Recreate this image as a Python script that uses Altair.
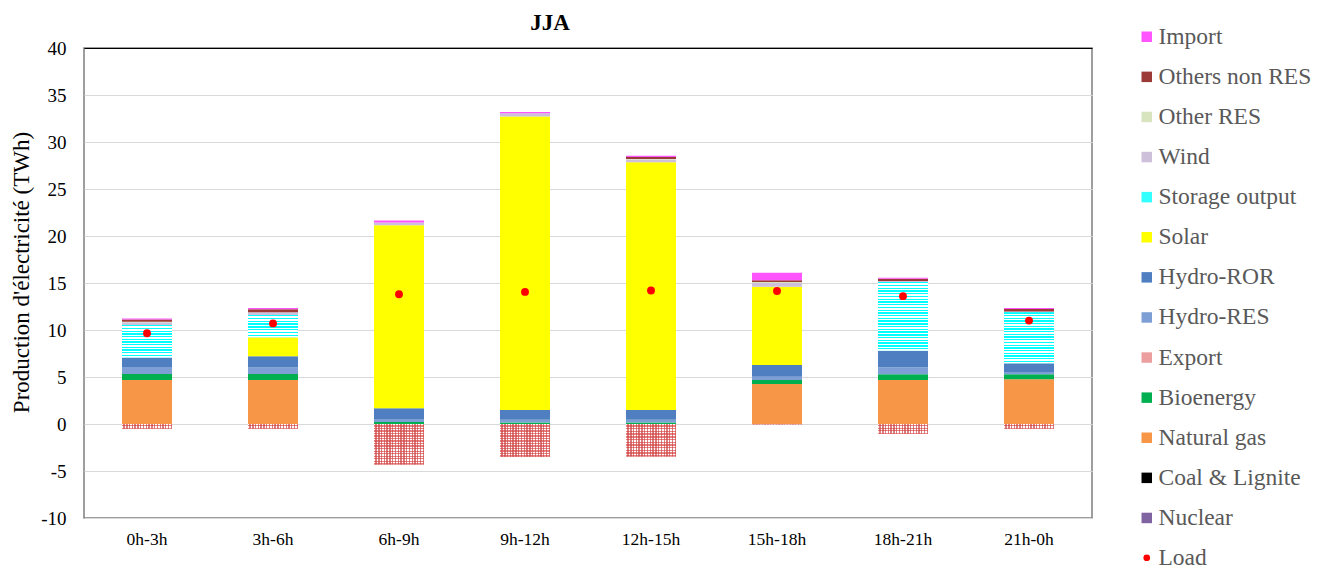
import altair as alt
import pandas as pd

periods = ["0h-3h", "3h-6h", "6h-9h", "9h-12h", "12h-15h", "15h-18h", "18h-21h", "21h-0h"]

nuclear = [0, 0, 0, 0, 0, 0, 0, 0]
coal_lignite = [0, 0, 0, 0, 0, 0, 0, 0]
natural_gas = [4.68, 4.68, 0, 0, 0, 4.26, 4.68, 4.75]
bioenergy = [0.64, 0.64, 0.2, 0.15, 0.15, 0.42, 0.61, 0.54]
hydro_res = [0.75, 0.70, 0.32, 0.30, 0.30, 0.35, 0.75, 0.25]
hydro_ror = [1.00, 1.20, 1.15, 1.05, 1.05, 1.25, 1.76, 0.92]
solar = [0, 2.0, 19.47, 31.2, 26.35, 8.32, 0, 0]
storage_output = [3.45, 2.38, 0, 0, 0, 0, 7.3, 5.42]
wind = [0.3, 0.3, 0.3, 0.35, 0.3, 0.4, 0.1, 0.1]
other_res = [0.05, 0, 0, 0, 0.05, 0.1, 0, 0]
others_non_res = [0.25, 0.3, 0, 0, 0.2, 0.2, 0.25, 0.25]
imports = [0.1, 0.15, 0.2, 0.15, 0.15, 0.8, 0.1, 0.1]
export = [-0.5, -0.5, -4.3, -3.48, -3.45, -0.05, -1.05, -0.5]
load = [9.65, 10.7, 13.8, 14.05, 14.2, 14.15, 13.6, 11.0]

stack_sources = [
    ("Nuclear", nuclear), ("Coal & Lignite", coal_lignite), ("Natural gas", natural_gas),
    ("Bioenergy", bioenergy), ("Hydro-RES", hydro_res), ("Hydro-ROR", hydro_ror),
    ("Solar", solar), ("Storage output", storage_output), ("Wind", wind),
    ("Other RES", other_res), ("Others non RES", others_non_res), ("Import", imports),
]

legend_order = ["Import", "Others non RES", "Other RES", "Wind", "Storage output", "Solar",
                "Hydro-ROR", "Hydro-RES", "Export", "Bioenergy", "Natural gas",
                "Coal & Lignite", "Nuclear"]
legend_colors = ["#ff55ff", "#9b3a36", "#d7e4bd", "#ccc0da", "#33ffff", "#ffff00",
                 "#4f7fc0", "#7d9fd6", "#ec9f9f", "#00b050", "#f79646",
                 "#000000", "#8064a2"]

rows = []
for i, p in enumerate(periods):
    base = 0.0
    for name, vals in stack_sources:
        v = vals[i]
        rows.append({"period": p, "source": name, "value": v, "y0": base, "y1": base + v})
        base += v
    rows.append({"period": p, "source": "Export", "value": export[i], "y0": 0.0, "y1": export[i]})
df = pd.DataFrame(rows)
df = df[df["value"] != 0]

load_df = pd.DataFrame({"period": periods, "load": load, "kind": ["Load"] * len(periods)})

PX_PER_UNIT = 470 / 50.0

x_enc = alt.X("period:N", sort=periods, title=None,
              scale=alt.Scale(paddingInner=0.603, paddingOuter=0.3015),
              axis=alt.Axis(labelAngle=0, ticks=False, domain=False, labelFontSize=17.5,
                            labelColor="#000000", labelPadding=12))
y_scale = alt.Scale(domain=[-10, 40], nice=False, zero=False)
y_enc = alt.Y("y0:Q", scale=y_scale, title="Production d'électricité (TWh)",
              axis=alt.Axis(values=list(range(-10, 41, 5)), ticks=False, domain=False,
                            labelExpr="'' + datum.value",
                            labelFontSize=19, labelColor="#000000", labelPadding=18,
                            titleFontSize=23, titleFontWeight="normal", titleColor="#000000",
                            titlePadding=7, titleY=224,
                            gridColor=alt.ExprRef("datum.value == 40 ? '#000000' : '#d9d9d9'")))

base = alt.Chart(df).mark_bar().encode(
    x=x_enc,
    y=y_enc,
    y2="y1:Q",
    color=alt.Color("source:N", scale=alt.Scale(domain=legend_order, range=legend_colors),
                    legend=alt.Legend(title=None, orient="none", legendX=1051, legendY=-23,
                                      symbolType="square", symbolSize=110, symbolStrokeWidth=0,
                                      labelFontSize=23.5, labelColor="#595959", rowPadding=15.1,
                                      labelOffset=0, labelLimit=400)),
)


def stripes(n, c1, c2, horizontal=True):
    stops = []
    for k in range(n):
        a = k / n
        m = (k + 0.5) / n
        b = (k + 1) / n
        stops += [alt.GradientStop(color=c1, offset=a), alt.GradientStop(color=c1, offset=m),
                  alt.GradientStop(color=c2, offset=m), alt.GradientStop(color=c2, offset=b)]
    if horizontal:
        return alt.LinearGradient(gradient="linear", stops=stops, x1=0, x2=0, y1=0, y2=1)
    return alt.LinearGradient(gradient="linear", stops=stops, x1=0, x2=1, y1=0, y2=0)


layers = [base]
for i, p in enumerate(periods):
    v = storage_output[i]
    if v > 0:
        n = max(1, round(v * PX_PER_UNIT / 2.7))
        layers.append(
            alt.Chart(df).transform_filter(
                (alt.datum.period == p) & (alt.datum.source == "Storage output")
            ).mark_bar(fill=stripes(n, "#00ffff", "#ffffff")).encode(x=x_enc, y="y0:Q", y2="y1:Q")
        )
    e = -export[i]
    n = round(e * PX_PER_UNIT / 2.6)
    if n >= 1:
        layers.append(
            alt.Chart(df).transform_filter(
                (alt.datum.period == p) & (alt.datum.source == "Export")
            ).mark_bar(fill=stripes(n, "#ffffff", "#e88080")).encode(x=x_enc, y="y0:Q", y2="y1:Q")
        )

layers.append(
    alt.Chart(df).transform_filter(alt.datum.source == "Export")
    .mark_bar(fill=stripes(18, "rgba(255,255,255,0)", "rgba(205,70,70,0.7)", horizontal=False))
    .encode(x=x_enc, y="y0:Q", y2="y1:Q")
)

points = alt.Chart(load_df).mark_point(filled=True, size=62, opacity=1, color="#ff0000").encode(
    x=alt.X("period:N", sort=periods),
    y=alt.Y("load:Q", scale=y_scale),
    shape=alt.Shape("kind:N", scale=alt.Scale(domain=["Load"], range=["circle"]),
                    legend=alt.Legend(title=None, orient="none", legendX=1051, legendY=498,
                                      symbolSize=45, symbolFillColor="#ff0000",
                                      symbolStrokeWidth=0, labelFontSize=23.5,
                                      labelColor="#595959", labelOffset=0)),
)
layers.append(points)

chart = alt.layer(*layers).properties(
    width=1008,
    height=470,
    autosize=alt.AutoSizeParams(type="none"),
    padding={"left": 76, "top": 40, "right": 230, "bottom": 54},
    title=alt.TitleParams("JJA", fontSize=23, fontWeight="bold", font="Liberation Serif",
                          anchor="middle", dx=-38, offset=-10, color="#000000"),
).configure(font="Liberation Serif").configure_view(
    stroke="#7f7f7f", strokeWidth=1.5
)

chart.save("out.html", embed_options={"renderer": "svg", "actions": False})
